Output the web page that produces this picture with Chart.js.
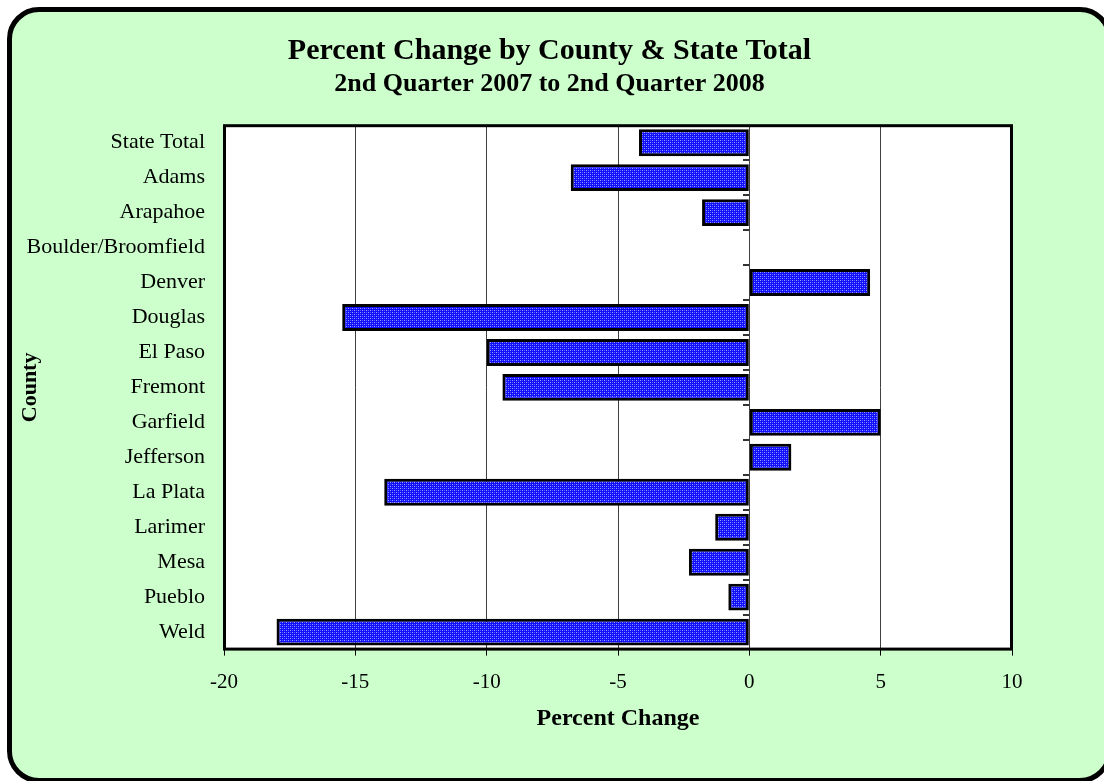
<!DOCTYPE html>
<html><head><meta charset="utf-8">
<script src="https://cdn.jsdelivr.net/npm/chart.js@4"></script>
<style>
html,body{margin:0;padding:0;background:#fff;overflow:hidden;width:1104px;height:781px;}
#card{position:absolute;left:7px;top:7px;width:1105px;height:776px;box-sizing:border-box;border:5px solid #000;border-radius:32px;background:#ccffcc;}
#c{position:absolute;left:0;top:0;}
</style></head><body>
<div id="card"></div>
<canvas id="c" width="1104" height="781"></canvas>
<script>
const counties = ['State Total','Adams','Arapahoe','Boulder/Broomfield','Denver','Douglas','El Paso','Fremont','Garfield','Jefferson','La Plata','Larimer','Mesa','Pueblo','Weld'];
const percentChange = [-4.2,-6.8,-1.8,null,4.6,-15.5,-10.0,-9.4,5.0,1.6,-13.9,-1.3,-2.3,-0.8,-18.0];
const xTicks = [-20,-15,-10,-5,0,5,10];
const titleText = 'Percent Change by County & State Total';
const subtitleText = '2nd Quarter 2007 to 2nd Quarter 2008';
const xTitle = 'Percent Change';
const yTitle = 'County';

function makePattern(){
  const p = document.createElement('canvas');
  p.width = 4; p.height = 4;
  const g = p.getContext('2d');
  g.fillStyle = '#1010ff'; g.fillRect(0,0,4,4);
  g.fillStyle = '#a0a0ff'; g.fillRect(0,0,1,1); g.fillRect(2,2,1,1);
  g.fillStyle = '#5858ff'; g.fillRect(0,2,1,1); g.fillRect(2,0,1,1);
  return g.createPattern(p,'repeat');
}

Chart.defaults.font.family = '"Liberation Serif","Times New Roman",serif';
Chart.defaults.color = '#000';

const plotDecor = {
  id:'plotDecor',
  beforeDraw(chart){
    const {ctx, chartArea:a} = chart;
    ctx.save(); ctx.fillStyle='#fff';
    ctx.fillRect(a.left,a.top,a.right-a.left,a.bottom-a.top);
    ctx.restore();
  },
  afterDatasetsDraw(chart){
    const {ctx, chartArea:a, scales:{x,y}} = chart;
    const x0 = Math.round(x.getPixelForValue(0));
    ctx.save();
    ctx.strokeStyle='#333'; ctx.lineWidth=2;
    for(let i=1;i<counties.length;i++){
      const yy = Math.round(y.getPixelForValue(i-0.5));
      ctx.beginPath(); ctx.moveTo(x0-6,yy); ctx.lineTo(x0,yy); ctx.stroke();
    }
    ctx.strokeStyle='#000'; ctx.lineWidth=3;
    ctx.strokeRect(a.left+0.5,a.top+0.5,a.right-a.left-1,a.bottom-a.top-1);
    ctx.restore();
  }
};

new Chart(document.getElementById('c'),{
  type:'bar',
  data:{labels:counties,datasets:[{
    data:percentChange,
    yAxisID:'y',
    backgroundColor:makePattern(),
    borderColor:'#000',
    borderWidth:3,
    borderSkipped:false,
    barPercentage:0.77,
    categoryPercentage:1.0
  }]},
  options:{
    indexAxis:'y',
    responsive:false,
    animation:false,
    layout:{padding:{left:0,right:5,top:0,bottom:53}},
    plugins:{
      legend:{display:false},
      tooltip:{enabled:false},
      title:{display:true,text:titleText,color:'#000',font:{size:30,weight:'bold'},padding:{top:33,bottom:0}},
      subtitle:{display:true,text:subtitleText,color:'#000',font:{size:26,weight:'bold'},padding:{top:0,bottom:25}}
    },
    scales:{
      x:{
        type:'linear',
        min:xTicks[0],max:xTicks[xTicks.length-1],
        afterBuildTicks:s=>{s.ticks = xTicks.map(v=>({value:v}));},
        grid:{color:'#404040',lineWidth:1,drawTicks:true,tickLength:6,tickColor:'#000'},
        border:{display:false},
        ticks:{font:{size:21},padding:14,color:'#000'},
        title:{display:true,text:xTitle,font:{size:24,weight:'bold',lineHeight:0.8},padding:{top:0,bottom:0},color:'#000'}
      },
      y:{
        type:'category',
        position:'left',
        grid:{display:false,drawTicks:false},
        border:{display:false},
        ticks:{font:{size:22},padding:19,color:'#000',autoSkip:false},
        title:{display:true,text:yTitle,font:{size:22,weight:'bold'},padding:{top:17,bottom:0},color:'#000'},
        afterFit:s=>{s.width=224;}
      },
      yRight:{
        type:'category',
        axis:'y',
        position:'right',
        labels:counties,
        grid:{display:false,drawTicks:false},
        border:{display:false},
        ticks:{display:false},
        afterFit:s=>{s.width=87;}
      }
    }
  },
  plugins:[plotDecor]
});
</script>
</body></html>
